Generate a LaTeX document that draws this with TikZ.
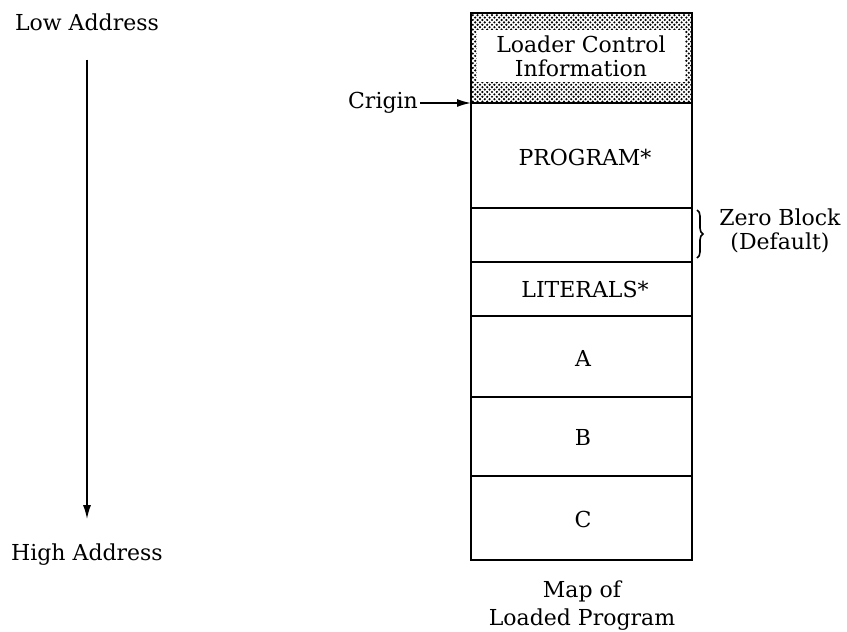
\documentclass[tikz,border=0pt]{standalone}
\usepackage{fontspec}
\setmainfont{DejaVu Serif}
\usetikzlibrary{arrows.meta,patterns,decorations.pathreplacing}
\pgfdeclarepatternformonly{loaderdots}{\pgfqpoint{-1pt}{-1pt}}{\pgfqpoint{3pt}{3pt}}{\pgfqpoint{2.4pt}{2.4pt}}{%
  \pgfpathcircle{\pgfqpoint{0pt}{0pt}}{0.6pt}%
  \pgfpathcircle{\pgfqpoint{1.2pt}{1.2pt}}{0.6pt}%
  \pgfusepath{fill}}

\begin{document}
\begin{tikzpicture}[x=0.5pt,y=-0.5pt,font=\fontsize{11}{13}\selectfont,>={Latex[length=7pt,width=4pt]}]
                      \useasboundingbox (0,0) rectangle (847,632);
                      \fill[pattern=loaderdots](471,13)rectangle(692,103);
                      \draw[thick] (471,13) rectangle (692,560);
                      \foreach \y in {103,208,262,316,397,476} \draw[thick] (471,\y) -- (692,\y);
                      \node[fill=white,minimum width=104pt,minimum height=26pt,inner sep=1pt,align=center,font=\fontsize{11}{12}\selectfont](lci)at(581,56){Loader Control\\Information};
                      \node(prog)at(585,157){PROGRAM*};
                      \node(lit)at(585,289){LITERALS*};
                      \node(a)at(583,358){A};
                      \node(b)at(583,437){B};
                      \node(c)at(583,519){C};
                      \node[align=center,font=\fontsize{11}{12}\selectfont](zero)at(780,231){Zero Block\\(Default)};
                      \node[align=center,font=\fontsize{11}{14}\selectfont](map)at(582,606){Map of\\Loaded Program};
                      \node(low)at(87,22){Low Address};
                      \node(high)at(87,555){High Address};
                      \node[inner sep=1pt](crigin)at(383,103){Crigin};
                      \coordinate(origin)at(471,103);
                      \draw[->,thick](crigin.east)--(origin);
                      \draw[->,thick,shorten <=11pt,shorten >=9pt](low)--(high);
                      \draw[thick,decorate,decoration={brace,amplitude=3pt}](697,210)--(697,258);
                  \end{tikzpicture}
\end{document}
